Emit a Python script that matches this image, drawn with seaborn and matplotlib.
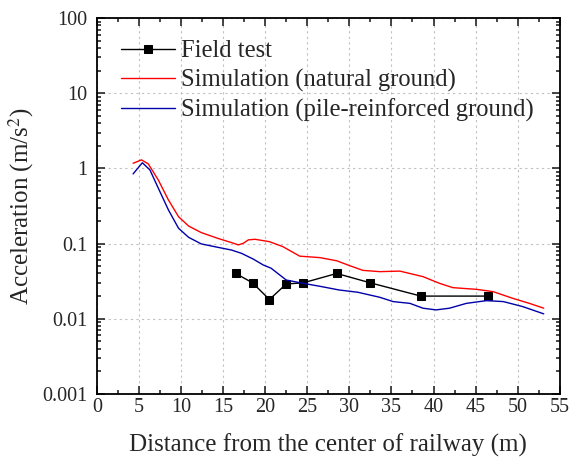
import matplotlib
matplotlib.use("Agg")
import matplotlib.pyplot as plt
import matplotlib.ticker as mticker
import seaborn as sns
import pandas as pd

field_x = [16.5, 18.5, 20.5, 22.5, 24.5, 28.5, 32.5, 38.5, 46.5]
field_y = [0.040, 0.030, 0.018, 0.029, 0.030, 0.040, 0.030, 0.020, 0.020]

nat_x = [4.3, 5.3, 6.1, 7.3, 8.5, 9.7, 10.9, 12.4, 14.4, 16.0, 16.8, 17.4, 18.0,
         18.8, 20.5, 22.1, 24.1, 26.5, 28.5, 30.0, 31.6, 33.6, 36.0, 38.75, 40.7,
         42.3, 45.1, 47.1, 49.4, 51.4, 53.1]
nat_y = [1.17, 1.30, 1.15, 0.70, 0.38, 0.228, 0.171, 0.140, 0.117, 0.103, 0.096,
         0.101, 0.112, 0.114, 0.106, 0.091, 0.068, 0.065, 0.059, 0.051, 0.044,
         0.0423, 0.043, 0.0363, 0.0296, 0.0259, 0.0246, 0.0229, 0.0187, 0.016,
         0.0138]

pile_x = [4.3, 5.4, 6.3, 7.3, 8.5, 9.7, 10.9, 12.4, 14.4, 16.0, 17.2, 18.6, 19.75,
          20.7, 21.5, 22.5, 24.5, 26.5, 28.8, 31.0, 33.6, 35.2, 37.2, 38.75, 40.3,
          41.9, 43.9, 46.3, 48.3, 50.6, 53.1]
pile_y = [0.845, 1.19, 0.955, 0.545, 0.28, 0.16, 0.121, 0.099, 0.089, 0.082, 0.074,
          0.062, 0.052, 0.047, 0.040, 0.0327, 0.0296, 0.027, 0.0241, 0.0225, 0.0193,
          0.0169, 0.016, 0.0138, 0.0131, 0.0138, 0.016, 0.0174, 0.0169, 0.0145,
          0.0116]

series_names = ["Field test", "Simulation (natural ground)",
                "Simulation (pile-reinforced ground)"]

sns.set_style("ticks")
plt.rcParams["font.family"] = ["Liberation Serif", "DejaVu Serif"]
plt.rcParams["mathtext.fontset"] = "stix"

fig = plt.figure(figsize=(5.7, 4.65), dpi=100)
ax = fig.add_axes([0.170, 0.153, 0.812, 0.808])

df_f = pd.DataFrame({"x": field_x, "y": field_y})
df_n = pd.DataFrame({"x": nat_x, "y": nat_y})
df_p = pd.DataFrame({"x": pile_x, "y": pile_y})

sns.lineplot(data=df_f, x="x", y="y", ax=ax, color="black", lw=1.0,
             marker="s", markersize=5.5, markeredgecolor="black",
             estimator=None, sort=False, label=series_names[0])
sns.lineplot(data=df_n, x="x", y="y", ax=ax, color="#ff0000", lw=1.0,
             estimator=None, sort=False, label=series_names[1])
sns.lineplot(data=df_p, x="x", y="y", ax=ax, color="#0000aa", lw=1.0,
             estimator=None, sort=False, label=series_names[2])

ax.set_yscale("log")
ax.set_xlim(0, 55)
ax.set_ylim(0.001, 100)
ax.set_xticks(range(0, 56, 5))
ax.xaxis.set_minor_locator(mticker.MultipleLocator(2.5))
ax.yaxis.set_major_locator(mticker.LogLocator(base=10, numticks=10))
ax.yaxis.set_minor_locator(mticker.LogLocator(base=10, subs=range(2, 10), numticks=20))
ax.yaxis.set_major_formatter(mticker.FuncFormatter(lambda v, p: "%g" % v))
ax.yaxis.set_minor_formatter(mticker.NullFormatter())

ax.grid(True, which="major", color="#c0c0c0", linestyle=(0, (2, 3)), lw=0.8)
ax.tick_params(which="both", direction="in", top=True, right=True,
               labelsize=14.5, width=1.2)
ax.tick_params(which="major", length=6)
ax.tick_params(axis="y", which="major", pad=7)
ax.tick_params(axis="x", which="major", pad=3)
ax.tick_params(which="minor", length=3)
for s in ax.spines.values():
    s.set_linewidth(1.3)
    s.set_color("black")

ax.set_xlabel("Distance from the center of railway (m)", fontsize=18, labelpad=12)
ax.set_ylabel("Acceleration (m/s$^{2}$)", fontsize=18, labelpad=4)

leg = ax.legend(loc="upper left", frameon=False, fontsize=17.7,
                handlelength=2.2, handletextpad=0.27, labelspacing=0.27,
                borderpad=0, borderaxespad=0, bbox_to_anchor=(0.051, 0.942))

fig.savefig("out.png", dpi=100)
